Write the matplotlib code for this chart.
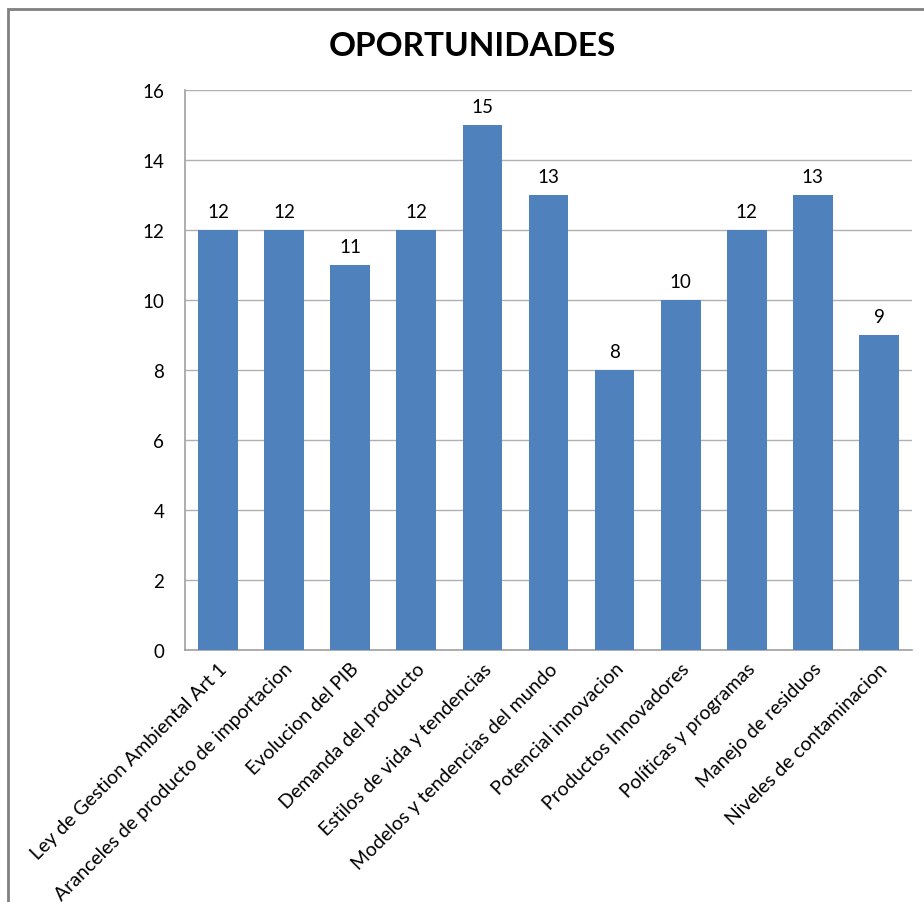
import matplotlib
matplotlib.use("Agg")
import matplotlib.pyplot as plt
from matplotlib.patches import Rectangle

categories = ["Ley de Gestion Ambiental Art 1", "Aranceles de producto de importacion",
              "Evolucion del PIB", "Demanda del producto", "Estilos de vida y tendencias",
              "Modelos y tendencias del mundo", "Potencial innovacion", "Productos Innovadores",
              "Políticas y programas", "Manejo de residuos", "Niveles de contaminacion"]
values = [12, 12, 11, 12, 15, 13, 8, 10, 12, 13, 9]
yticks = [0, 2, 4, 6, 8, 10, 12, 14, 16]

plt.rcParams['font.family'] = ['Lato', 'DejaVu Sans']

W, H = 924, 903
fig = plt.figure(figsize=(W/100, H/100), dpi=100)
ax = fig.add_axes([185/W, 1-651/H, (912-185)/W, (651-91)/H])

x = list(range(len(values)))
bars = ax.bar(x, values, width=0.6, color="#4F81BD", zorder=3)
ax.set_xlim(-0.5, len(values)-0.5)
ax.set_ylim(0, 16)
ax.set_yticks(yticks)
ax.set_yticklabels([str(t) for t in yticks], fontsize=13.5)
ax.yaxis.grid(True, color="#B0B0B0", linewidth=1, zorder=0)
ax.tick_params(axis='y', length=0, pad=15)
ax.tick_params(axis='x', length=0, pad=7)
ax.set_xticks(x)
ax.set_xticklabels(categories, rotation=45, ha='right', rotation_mode='anchor', fontsize=14)
for s in ['top', 'right']:
    ax.spines[s].set_visible(False)
for s in ['left', 'bottom']:
    ax.spines[s].set_color("#A0A0A0")
    ax.spines[s].set_linewidth(1.2)

for xi, v in zip(x, values):
    ax.annotate(str(v), (xi, v), xytext=(0, 7), textcoords='offset points',
                ha='center', va='bottom', fontsize=13.5)

fig.text(472/W, 1-47/H, "OPORTUNIDADES", ha='center', va='center', fontsize=24, fontweight='bold')

fig.patches.append(Rectangle((8/W, -0.1), 1.2, 1 - 10/H + 0.1, transform=fig.transFigure,
                             fill=False, edgecolor="#808080", linewidth=2))

fig.savefig("out.png", dpi=100)
